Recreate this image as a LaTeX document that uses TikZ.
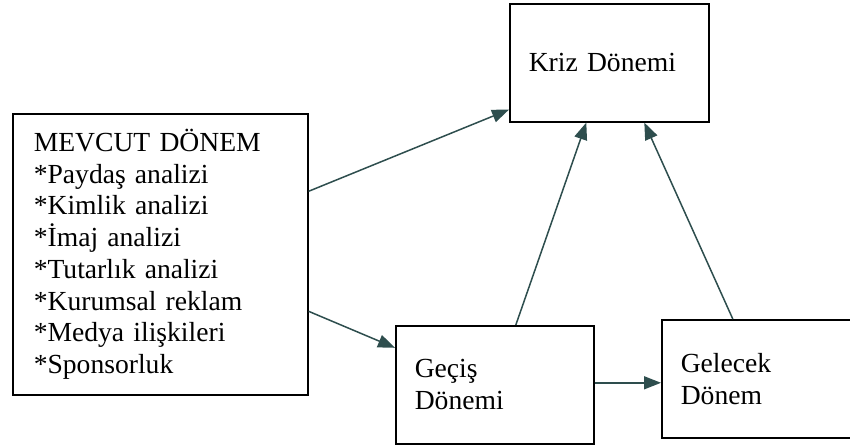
\documentclass[tikz,border=0pt]{standalone}
\usepackage{fontspec}
\setmainfont{Liberation Serif}
\usetikzlibrary{arrows.meta}
\definecolor{linkcol}{HTML}{2E4E4E}
\begin{document}
\begin{tikzpicture}[x=1pt,y=-1pt,>={Triangle[length=17pt,width=13pt]}]
    \tikzstyle{box}=[draw,line width=1.6pt,anchor=north west,align=left,inner xsep=19pt,minimum height=118pt,font=\fontsize{27.6}{31.7}\selectfont]
    \tikzstyle{link}=[->,draw=linkcol,fill=linkcol,line width=1.5pt]
    \useasboundingbox (0,0) rectangle (850,446);

    \node[box,inner xsep=21pt,text width=253pt,minimum height=281pt] (mevcut) at (12,113) {MEVCUT DÖNEM\\{*}Paydaş analizi\\{*}Kimlik analizi\\{*}İmaj analizi\\{*}Tutarlık analizi\\{*}Kurumsal reklam\\{*}Medya ilişkileri\\{*}Sponsorluk};
    \node[box,text width=161pt] (kriz) at (509,3) {Kriz Dönemi};
    \node[box,text width=160pt] (gecis) at (395,325) {Geçiş\\Dönemi};
    \node[box,text width=162pt] (gelecek) at (661,319) {Gelecek\\Dönem};

    \draw[link] ([yshift=63pt]mevcut.east) -- ([yshift=13pt]kriz.south west);
    \draw[link] ([yshift=-57pt]mevcut.east) -- ([yshift=37pt]gecis.west);
    \draw[link] ([xshift=21pt]gecis.north) -- ([xshift=-23pt]kriz.south);
    \draw[link] ([xshift=-29pt]gelecek.north) -- ([xshift=35pt]kriz.south);
    \draw[link] ([yshift=2pt]gecis.east) -- ([yshift=-4pt]gelecek.west);
\end{tikzpicture}
\end{document}
